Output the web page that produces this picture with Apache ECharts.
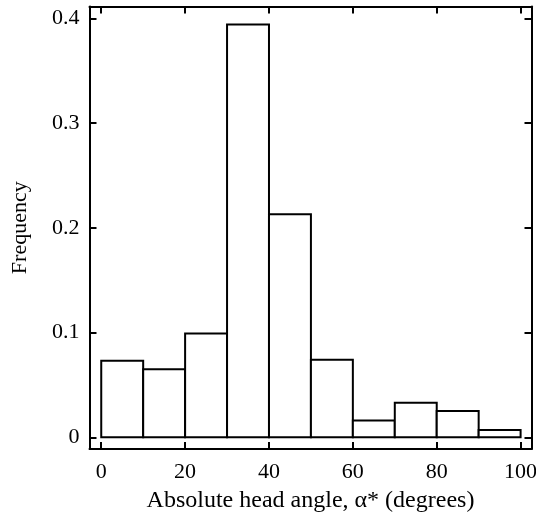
<!DOCTYPE html>
<html>
<head>
<meta charset="utf-8">
<script src="https://cdn.jsdelivr.net/npm/echarts@6/dist/echarts.min.js"></script>
<style>html,body{margin:0;padding:0;background:#fff}#c{width:536px;height:516px}</style>
</head>
<body>
<div id="c"></div>
<script>
var binStarts = [0, 10, 20, 30, 40, 50, 60, 70, 80, 90];
var binWidth = 10;
var frequencies = [0.073, 0.065, 0.099, 0.394, 0.213, 0.074, 0.016, 0.033, 0.025, 0.007];
var xTicks = [0, 20, 40, 60, 80, 100];
var yTicks = [0, 0.1, 0.2, 0.3, 0.4];

var font = 'Liberation Serif';
var data = binStarts.map(function (s, i) { return [s, s + binWidth, frequencies[i]]; });

function tickStyle(vals) {
  return { show: true, inside: true, length: 7, customValues: vals, lineStyle: { color: '#000', width: 2 } };
}
var lineStyle = { show: true, onZero: false, lineStyle: { color: '#000', width: 2 } };

var chart = echarts.init(document.getElementById('c'), null, { renderer: 'canvas' });
chart.setOption({
  animation: false,
  backgroundColor: '#fff',
  grid: { left: 89.5, right: 4.5, top: 6.5, bottom: 67, containLabel: false, outerBoundsMode: 'none' },
  xAxis: [{
    type: 'value', position: 'bottom', min: -2.8, max: 102.6,
    axisLine: lineStyle,
    axisTick: tickStyle(xTicks),
    axisLabel: { customValues: xTicks, color: '#000', fontFamily: font, fontSize: 22, margin: 12 },
    splitLine: { show: false },
    name: 'Absolute head angle, \u03b1* (degrees)', nameLocation: 'middle', nameGap: 40,
    nameTextStyle: { color: '#000', fontFamily: font, fontSize: 24 }
  }, {
    type: 'value', position: 'top', min: -2.8, max: 102.6,
    axisLine: lineStyle,
    axisTick: tickStyle(xTicks),
    axisLabel: { show: false },
    splitLine: { show: false }
  }],
  yAxis: [{
    type: 'value', position: 'left', min: -0.0112, max: 0.4113,
    axisLine: lineStyle,
    axisTick: tickStyle(yTicks),
    axisLabel: { customValues: yTicks, color: '#000', fontFamily: font, fontSize: 22, margin: 10 },
    splitLine: { show: false },
    name: 'Frequency', nameLocation: 'middle', nameGap: 58, nameRotate: 90,
    nameTextStyle: { color: '#000', fontFamily: font, fontSize: 22 }
  }, {
    type: 'value', position: 'right', min: -0.0112, max: 0.4113,
    axisLine: lineStyle,
    axisTick: tickStyle(yTicks),
    axisLabel: { show: false },
    splitLine: { show: false }
  }],
  series: [{
    type: 'custom',
    xAxisIndex: 0, yAxisIndex: 0,
    data: data,
    renderItem: function (params, api) {
      var p0 = api.coord([api.value(0), api.value(2)]);
      var p1 = api.coord([api.value(1), 0]);
      return {
        type: 'rect',
        shape: { x: p0[0], y: p0[1], width: p1[0] - p0[0], height: p1[1] - p0[1] },
        style: { fill: '#fff', stroke: '#000', lineWidth: 2 }
      };
    }
  }]
});
</script>
</body>
</html>
